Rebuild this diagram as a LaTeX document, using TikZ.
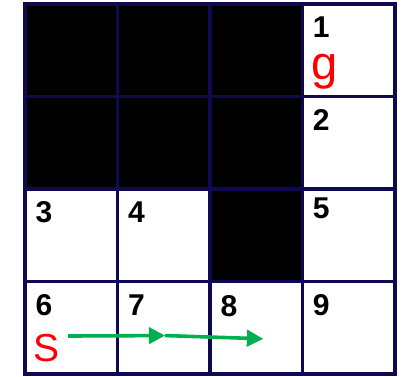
\documentclass[tikz,border=0pt]{standalone}
\usepackage{fontspec}
\setmainfont{Liberation Sans}
\usetikzlibrary{arrows.meta}

\definecolor{gridnavy}{RGB}{14,10,82}
\definecolor{pathgreen}{RGB}{0,176,80}

\begin{document}
\begin{tikzpicture}[
        cellnum/.style={anchor=base west, inner sep=0pt, font=\fontsize{18.5}{22}\selectfont\bfseries},
        marker/.style={anchor=base west, inner sep=0pt, text=red},
        move/.style={-{Triangle[length=10pt, width=10pt]}, line width=2.2pt, draw=pathgreen}
    ]
        \useasboundingbox (-0.541,0.086) rectangle (8.130,-8.065);
        % blocked cells
        \fill (0,0) rectangle (6,-4);
        \fill (4,-4) rectangle (6,-6);
        % grid
        \draw[gridnavy, line width=2.3pt, line cap=rect] (0,-8) grid[step=2] (8,0);
        % state numbers
        \node[cellnum] (n1) at (6.22,-0.73) {1};
        \node[cellnum] (n2) at (6.22,-2.73) {2};
        \node[cellnum] (n3) at (0.22,-4.73) {3};
        \node[cellnum] (n4) at (2.22,-4.73) {4};
        \node[cellnum] (n5) at (6.22,-4.64) {5};
        \node[cellnum] (n6) at (0.22,-6.73) {6};
        \node[cellnum] (n7) at (2.22,-6.73) {7};
        \node[cellnum] (n8) at (4.22,-6.76) {8};
        \node[cellnum] (n9) at (6.22,-6.73) {9};
        % goal and start
        \node[marker, font=\fontsize{29}{32}\selectfont] (goal) at (6.18,-1.63) {g};
        \node[marker, font=\fontsize{24}{28}\selectfont] (start) at (0.18,-7.72) {S};
        % moves
        \coordinate (a0) at (0.93,-7.18);
        \coordinate (a1) at (3.03,-7.17);
        \coordinate (a2) at (5.15,-7.24);
        \draw[move] (a0) -- (a1);
        \draw[move] (a1) -- (a2);
    \end{tikzpicture}
\end{document}
